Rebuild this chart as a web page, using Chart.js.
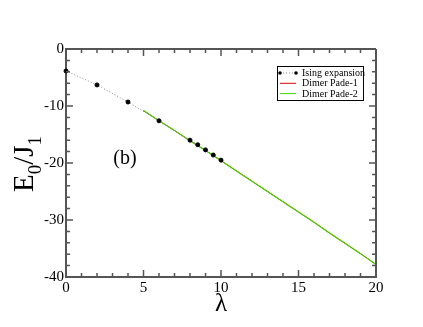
<!DOCTYPE html>
<html>
<head>
<meta charset="utf-8">
<script src="https://cdn.jsdelivr.net/npm/chart.js@4/dist/chart.umd.min.js"></script>
<style>
  html, body { margin: 0; padding: 0; background: #fff; }
  #wrap { width: 423px; height: 327px; position: relative; }
</style>
</head>
<body>
<div id="wrap"><canvas id="grafico" width="423" height="327"></canvas></div>
<script>
// datos
var isingX = [0, 2, 4, 6, 8, 8.5, 9, 9.5, 10];
var isingY = [-3.85, -6.3, -9.3, -12.6, -16.0, -16.8, -17.7, -18.6, -19.5];

var dimerX = [5, 6, 7, 8, 9, 10, 11, 12, 13, 14, 15, 16, 17, 18, 19, 20];
var pade1Y = [-10.8, -12.6, -14.3, -16.1, -17.8, -19.6, -21.4, -23.2, -25.0, -26.8, -28.6, -30.4, -32.3, -34.1, -35.9, -37.8];
var pade2Y = [-10.8, -12.6, -14.3, -16.1, -17.8, -19.6, -21.4, -23.2, -25.0, -26.8, -28.6, -30.4, -32.3, -34.1, -35.9, -37.8];

var xTicks = [0, 5, 10, 15, 20];
var yTicks = [0, -10, -20, -30, -40];

var serif = 'Liberation Serif';
Chart.defaults.font.family = serif;
Chart.defaults.color = '#000';

function pares(xs, ys) {
    return xs.map(function (x, i) { return { x: x, y: ys[i] }; });
}

// ticks hacia dentro, marco y textos estilo xmgrace
var marcoPlugin = {
    id: 'marco',
    afterDraw: function (chart) {
        var ctx = chart.ctx;
        var a = chart.chartArea;
        var sx = chart.scales.x, sy = chart.scales.y;
        ctx.save();
        ctx.strokeStyle = '#555';
        ctx.lineWidth = 2;
        ctx.beginPath();
        ctx.moveTo(a.left, a.top); ctx.lineTo(a.right, a.top);
        ctx.moveTo(a.right, a.top); ctx.lineTo(a.right, a.bottom);
        ctx.stroke();

        ctx.lineWidth = 1.5;
        ctx.beginPath();
        for (var v = 0; v <= 20; v += 1) {
            var px = sx.getPixelForValue(v);
            var len = (v % 5 === 0) ? 7 : 4;
            ctx.moveTo(px, a.bottom); ctx.lineTo(px, a.bottom - len);
            ctx.moveTo(px, a.top); ctx.lineTo(px, a.top + len);
        }
        for (var w = 0; w >= -40; w -= 2) {
            var py = sy.getPixelForValue(w);
            var l2 = (w % 10 === 0) ? 7 : 4;
            ctx.moveTo(a.left, py); ctx.lineTo(a.left + l2, py);
            ctx.moveTo(a.right, py); ctx.lineTo(a.right - l2, py);
        }
        ctx.stroke();

        // titulo eje y con subindices
        ctx.fillStyle = '#000';
        ctx.translate(33, (a.top + a.bottom) / 2 + 1);
        ctx.rotate(-Math.PI / 2);
        var big = '29px ' + serif, small = '19px ' + serif;
        var partes = [['E', big, 0], ['0', small, 8], ['/J', big, 0], ['1', small, 8]];
        var total = 0;
        partes.forEach(function (p) { ctx.font = p[1]; total += ctx.measureText(p[0]).width; });
        var cx = -total / 2;
        ctx.textBaseline = 'alphabetic';
        partes.forEach(function (p) {
            ctx.font = p[1];
            ctx.fillText(p[0], cx, p[2]);
            cx += ctx.measureText(p[0]).width;
        });
        ctx.restore();

        ctx.save();
        ctx.fillStyle = '#000';
        ctx.textAlign = 'center';
        ctx.textBaseline = 'middle';
        ctx.font = '25px ' + serif;
        ctx.fillText('\u03bb', (a.left + a.right) / 2, 304);
        ctx.font = '20px ' + serif;
        ctx.fillText('(b)', 125, 159);

        // leyenda
        var lx = 277, ly = 66, lw = 86, lh = 34;
        ctx.fillStyle = '#fff';
        ctx.fillRect(lx, ly, lw, lh);
        ctx.strokeStyle = '#000';
        ctx.lineWidth = 1;
        ctx.strokeRect(lx + 0.5, ly + 0.5, lw, lh);
        ctx.font = '10px ' + serif;
        ctx.textAlign = 'left';
        chart.data.datasets.forEach(function (ds, i) {
            var yy = ly + 7 + i * 10.3;
            ctx.save();
            ctx.strokeStyle = ds.borderColor;
            ctx.lineWidth = 1;
            if (ds.borderDash) ctx.setLineDash(ds.borderDash);
            ctx.beginPath();
            ctx.moveTo(lx + 3, yy); ctx.lineTo(lx + 19, yy);
            ctx.stroke();
            ctx.restore();
            if (ds.pointRadius > 0) {
                ctx.fillStyle = '#000';
                [lx + 3, lx + 19].forEach(function (q) {
                    ctx.beginPath(); ctx.arc(q, yy, 1.8, 0, Math.PI * 2); ctx.fill();
                });
            }
            ctx.fillStyle = '#000';
            ctx.fillText(ds.label, lx + 25, yy + 0.5);
        });
        ctx.restore();
    }
};

var ctx = document.getElementById('grafico').getContext('2d');
var chart = new Chart(ctx, {
    type: 'scatter',
    data: {
        datasets: [{
            label: 'Ising expansion',
            data: pares(isingX, isingY),
            showLine: true,
            borderColor: '#888',
            borderWidth: 1,
            borderDash: [1, 2],
            pointRadius: 2,
            pointBackgroundColor: '#000',
            pointBorderColor: '#000',
            clip: false,
            order: 0
        }, {
            label: 'Dimer Pade-1',
            data: pares(dimerX, pade1Y),
            showLine: true,
            borderColor: '#e00000',
            borderWidth: 1,
            pointRadius: 0,
            order: 2
        }, {
            label: 'Dimer Pade-2',
            data: pares(dimerX, pade2Y),
            showLine: true,
            borderColor: '#44d400',
            borderWidth: 1.2,
            pointRadius: 0,
            order: 1
        }]
    },
    options: {
        responsive: false,
        animation: false,
        layout: { padding: { left: 0, top: 49, right: 47, bottom: 0 } },
        plugins: { legend: { display: false }, tooltip: { enabled: false } },
        scales: {
            x: {
                type: 'linear', min: 0, max: 20,
                afterFit: function (s) { s.height = 50; },
                afterBuildTicks: function (s) { s.ticks = xTicks.map(function (v) { return { value: v }; }); },
                grid: { display: false, drawTicks: false },
                border: { display: true, color: '#555', width: 2 },
                ticks: { color: '#000', font: { family: serif, size: 15 }, padding: 2, maxRotation: 0 }
            },
            y: {
                type: 'linear', min: -40, max: 0,
                afterFit: function (s) { s.width = 66; },
                afterBuildTicks: function (s) { s.ticks = yTicks.map(function (v) { return { value: v }; }); },
                grid: { display: false, drawTicks: false },
                border: { display: true, color: '#555', width: 2 },
                ticks: { color: '#000', font: { family: serif, size: 15 }, padding: 2 }
            }
        }
    },
    plugins: [marcoPlugin]
});
</script>
</body>
</html>
